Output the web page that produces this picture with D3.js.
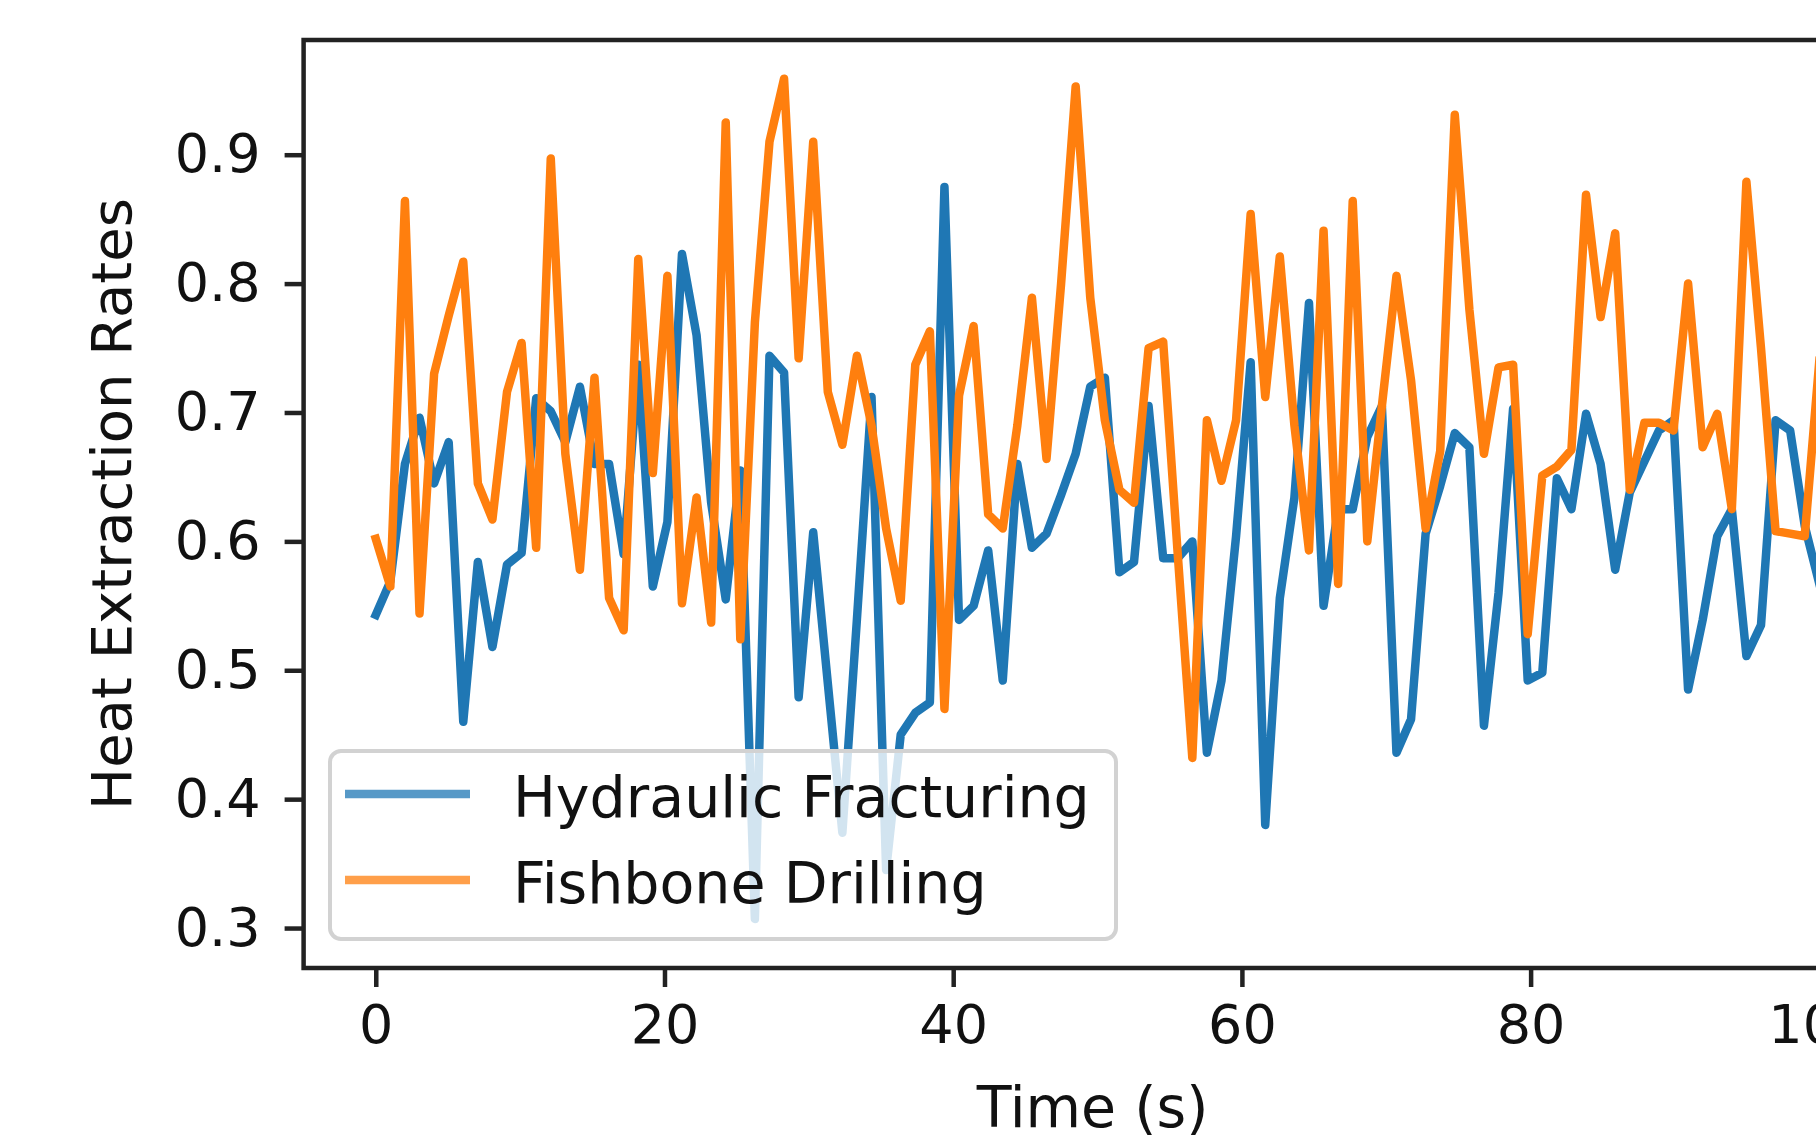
<!DOCTYPE html>
<html>
<head>
<meta charset="utf-8">
<script src="https://cdn.jsdelivr.net/npm/d3@7"></script>
<style>
  body { margin: 0; background: #fff; overflow: hidden; }
  text { font-family: "DejaVu Sans", sans-serif; fill: #111; }
</style>
</head>
<body>
<svg id="chart"></svg>
<script>
// 100 samples spread evenly over 0..100 s (sample grid, not data)
var timeSec = d3.range(100).map(function(i) { return i * 100 / 99; });

// values
var hydraulic = [
  0.543, 0.569, 0.660, 0.696, 0.645, 0.677, 0.460, 0.584, 0.518, 0.582,
  0.591, 0.711, 0.701, 0.677, 0.720, 0.660, 0.660, 0.590, 0.737, 0.565,
  0.615, 0.823, 0.760, 0.630, 0.555, 0.655, 0.307, 0.744, 0.731, 0.479,
  0.607, 0.490, 0.374, 0.540, 0.712, 0.345, 0.450, 0.467, 0.475, 0.875,
  0.539, 0.550, 0.593, 0.492, 0.660, 0.595, 0.606, 0.636, 0.668, 0.720,
  0.727, 0.576, 0.584, 0.705, 0.587, 0.587, 0.600, 0.436, 0.492, 0.604,
  0.739, 0.380, 0.556, 0.634, 0.785, 0.550, 0.625, 0.625, 0.681, 0.705,
  0.436, 0.462, 0.606, 0.643, 0.684, 0.673, 0.457, 0.560, 0.703, 0.492,
  0.498, 0.649, 0.625, 0.699, 0.660, 0.578, 0.638, 0.662, 0.686, 0.694,
  0.485, 0.539, 0.604, 0.625, 0.511, 0.535, 0.694, 0.686, 0.612, 0.567
];

var fishbone = [
  0.602, 0.565, 0.864, 0.544, 0.730, 0.775, 0.817, 0.645, 0.617, 0.716,
  0.754, 0.595, 0.897, 0.668, 0.578, 0.727, 0.556, 0.531, 0.819, 0.653,
  0.806, 0.552, 0.634, 0.537, 0.925, 0.524, 0.770, 0.910, 0.959, 0.742,
  0.910, 0.716, 0.675, 0.744, 0.690, 0.610, 0.554, 0.737, 0.763, 0.470,
  0.713, 0.767, 0.621, 0.610, 0.690, 0.789, 0.664, 0.800, 0.953, 0.789,
  0.694, 0.640, 0.630, 0.750, 0.755, 0.590, 0.432, 0.694, 0.647, 0.694,
  0.854, 0.712, 0.821, 0.690, 0.593, 0.841, 0.567, 0.864, 0.600, 0.705,
  0.806, 0.725, 0.610, 0.670, 0.931, 0.780, 0.668, 0.735, 0.737, 0.528,
  0.651, 0.658, 0.671, 0.869, 0.774, 0.839, 0.640, 0.692, 0.692, 0.686,
  0.800, 0.673, 0.699, 0.625, 0.879, 0.750, 0.608, 0.606, 0.604, 0.740
];

var seriesNames = ["Hydraulic Fracturing", "Fishbone Drilling"];
var seriesColors = ["#1f77b4", "#ff7f0e"];
var xTicks = [0, 20, 40, 60, 80, 100];
var yTicks = [0.3, 0.4, 0.5, 0.6, 0.7, 0.8, 0.9];
var yLimits = [0.269, 0.989];

var width = 1816, height = 1140;
// axes box (right edge runs past the picture, as in the original)
var plot = {left: 303.6, top: 40, right: 1891.5, bottom: 968};

var svg = d3.select("#chart")
  .attr("width", width)
  .attr("height", height);

// matplotlib-like 5% margins on x
var xPad = (d3.max(timeSec) - d3.min(timeSec)) * 0.05;
var x = d3.scaleLinear()
  .domain([d3.min(timeSec) - xPad, d3.max(timeSec) + xPad])
  .range([plot.left, plot.right]);

var y = d3.scaleLinear()
  .domain(yLimits)
  .range([plot.bottom, plot.top]);

// lines
var line = d3.line()
  .x(function(d, i) { return x(timeSec[i]); })
  .y(function(d) { return y(d); });

[hydraulic, fishbone].forEach(function(values, k) {
  svg.append("path")
    .datum(values)
    .attr("d", line)
    .attr("fill", "none")
    .attr("stroke", seriesColors[k])
    .attr("stroke-width", 8.5)
    .attr("stroke-linejoin", "round")
    .attr("stroke-linecap", "square");
});

// axes
var xAxis = svg.append("g")
  .attr("transform", "translate(0," + plot.bottom + ")")
  .call(d3.axisBottom(x).tickValues(xTicks).tickSize(19).tickPadding(18)
    .tickFormat(d3.format("d")));

var yAxis = svg.append("g")
  .attr("transform", "translate(" + plot.left + ",0)")
  .call(d3.axisLeft(y).tickValues(yTicks).tickSize(19).tickPadding(24)
    .tickFormat(d3.format(".1f")));

[xAxis, yAxis].forEach(function(ax) {
  ax.select(".domain").remove();
  ax.selectAll(".tick line").attr("stroke", "#222").attr("stroke-width", 4.5);
  ax.selectAll(".tick text")
    .style("font-family", "'DejaVu Sans', sans-serif")
    .style("font-size", "54px")
    .attr("fill", "#111");
});

// spines
svg.append("rect")
  .attr("x", plot.left)
  .attr("y", plot.top)
  .attr("width", plot.right - plot.left)
  .attr("height", plot.bottom - plot.top)
  .attr("fill", "none")
  .attr("stroke", "#222")
  .attr("stroke-width", 4.5);

// axis labels
svg.append("text")
  .attr("text-anchor", "middle")
  .attr("x", (plot.left + plot.right) / 2 - 5)
  .attr("y", 1127)
  .style("font-size", "57px")
  .text("Time (s)");

svg.append("text")
  .attr("text-anchor", "middle")
  .attr("transform", "translate(131," + (plot.top + plot.bottom) / 2 + ")rotate(-90)")
  .style("font-size", "56px")
  .text("Heat Extraction Rates");

// legend
var legend = svg.append("g");

legend.append("rect")
  .attr("x", 330)
  .attr("y", 751)
  .attr("width", 786)
  .attr("height", 188)
  .attr("rx", 11)
  .attr("fill", "#fff")
  .attr("fill-opacity", 0.8)
  .attr("stroke", "#d2d2d2")
  .attr("stroke-width", 4);

seriesNames.forEach(function(name, k) {
  var ly = 794 + k * 86;
  legend.append("line")
    .attr("x1", 345)
    .attr("x2", 470)
    .attr("y1", ly)
    .attr("y2", ly)
    .attr("stroke", seriesColors[k])
    .attr("stroke-opacity", 0.75)
    .attr("stroke-width", 8.5);
  legend.append("text")
    .attr("x", 513)
    .attr("y", ly + 23)
    .style("font-size", "57px")
    .text(name);
});
</script>
</body>
</html>
